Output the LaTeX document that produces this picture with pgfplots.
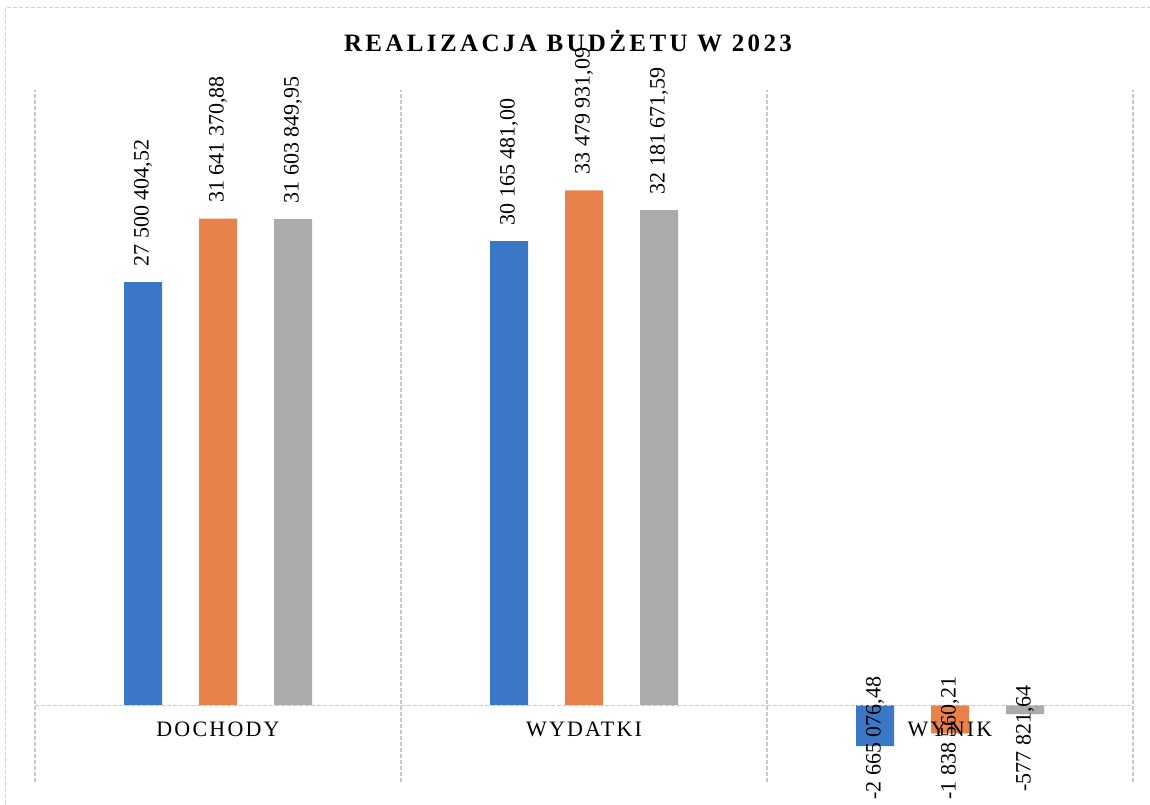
\documentclass[border=0pt]{standalone}
\usepackage{fontspec}
\setmainfont{Liberation Serif}
\newfontfamily\catfont[LetterSpace=10]{Liberation Serif}
\newfontfamily\titlefont[LetterSpace=13.5]{Liberation Serif}
\usepackage{pgfplots}
\pgfplotsset{compat=1.18}
\definecolor{cblue}{HTML}{3A77C7}
\definecolor{corange}{HTML}{E8824A}
\definecolor{cgray}{HTML}{ABABAB}
\definecolor{gridc}{HTML}{C8C8C8}
\tikzset{labelstyle/.style={rotate=90, inner sep=0pt, font=\fontsize{11}{13}\selectfont, text=black}}
\begin{document}
\begin{tikzpicture}
\path[use as bounding box] (0,0) rectangle (575pt,402pt);
\draw[gridc!80, line width=0.5pt, dash pattern=on 2pt off 1pt] (2.5pt,0) -- (2.5pt,398pt) -- (575pt,398pt);
\node[anchor=base, inner sep=0pt, font=\titlefont\bfseries\fontsize{12.5}{15}\selectfont] at (284pt,376pt) {REALIZACJA BUDŻETU W 2023};
\begin{axis}[
  at={(17.5pt,11pt)}, anchor=south west,
  scale only axis, width=549pt, height=346pt,
  xmin=-0.5, xmax=2.5, ymin=-5e6, ymax=40e6,
  axis x line=middle, axis y line=none,
  axis on top,
  x axis line style={gridc, line width=0.6pt, dash pattern=on 2pt off 1pt, -},
  xtick={0,1,2}, xticklabels={DOCHODY,WYDATKI,WYNIK},
  minor xtick={-0.5,0.5,1.5,2.5},
  xminorgrids=true, xmajorgrids=false,
  minor grid style={gridc, line width=0.6pt, dash pattern=on 2pt off 1pt},
  major tick length=0pt, minor tick length=0pt,
  xticklabel style={font=\catfont\fontsize{11}{13}\selectfont, anchor=north, yshift=-5pt, text=black},
  ytick=\empty,
  clip=false,
]
% bars
\addplot[ybar, bar width=19pt, bar shift=-37.5pt, fill=cblue, draw=none]
  coordinates {(0,27500404.52) (1,30165481.00) (2,-2665076.48)};
\addplot[ybar, bar width=19pt, bar shift=0pt, fill=corange, draw=none]
  coordinates {(0,31641370.88) (1,33479931.09) (2,-1838560.21)};
\addplot[ybar, bar width=19pt, bar shift=37.5pt, fill=cgray, draw=none]
  coordinates {(0,31603849.95) (1,32181671.59) (2,-577821.64)};
% value labels above the positive bars
\addplot[draw=none, mark=none, forget plot,
  nodes near coords, point meta=explicit symbolic,
  nodes near coords style={labelstyle, anchor=west, outer xsep=8pt}]
  coordinates {(-0.205,27500404.52)[27 500 404,52] (0.795,30165481.00)[30 165 481,00]
               (0,31641370.88)[31 641 370,88] (1,33479931.09)[33 479 931,09]
               (0.205,31603849.95)[31 603 849,95] (1.205,32181671.59)[32 181 671,59]};
% value labels of the negative bars
\addplot[draw=none, mark=none, forget plot,
  nodes near coords, point meta=explicit symbolic,
  nodes near coords style={labelstyle, anchor=center}]
  coordinates {(1.795,-2.15e6)[-2 665 076,48] (2,-2.15e6)[-1 838 560,21] (2.205,-2.15e6)[-577 821,64]};
\end{axis}
\end{tikzpicture}
\end{document}
